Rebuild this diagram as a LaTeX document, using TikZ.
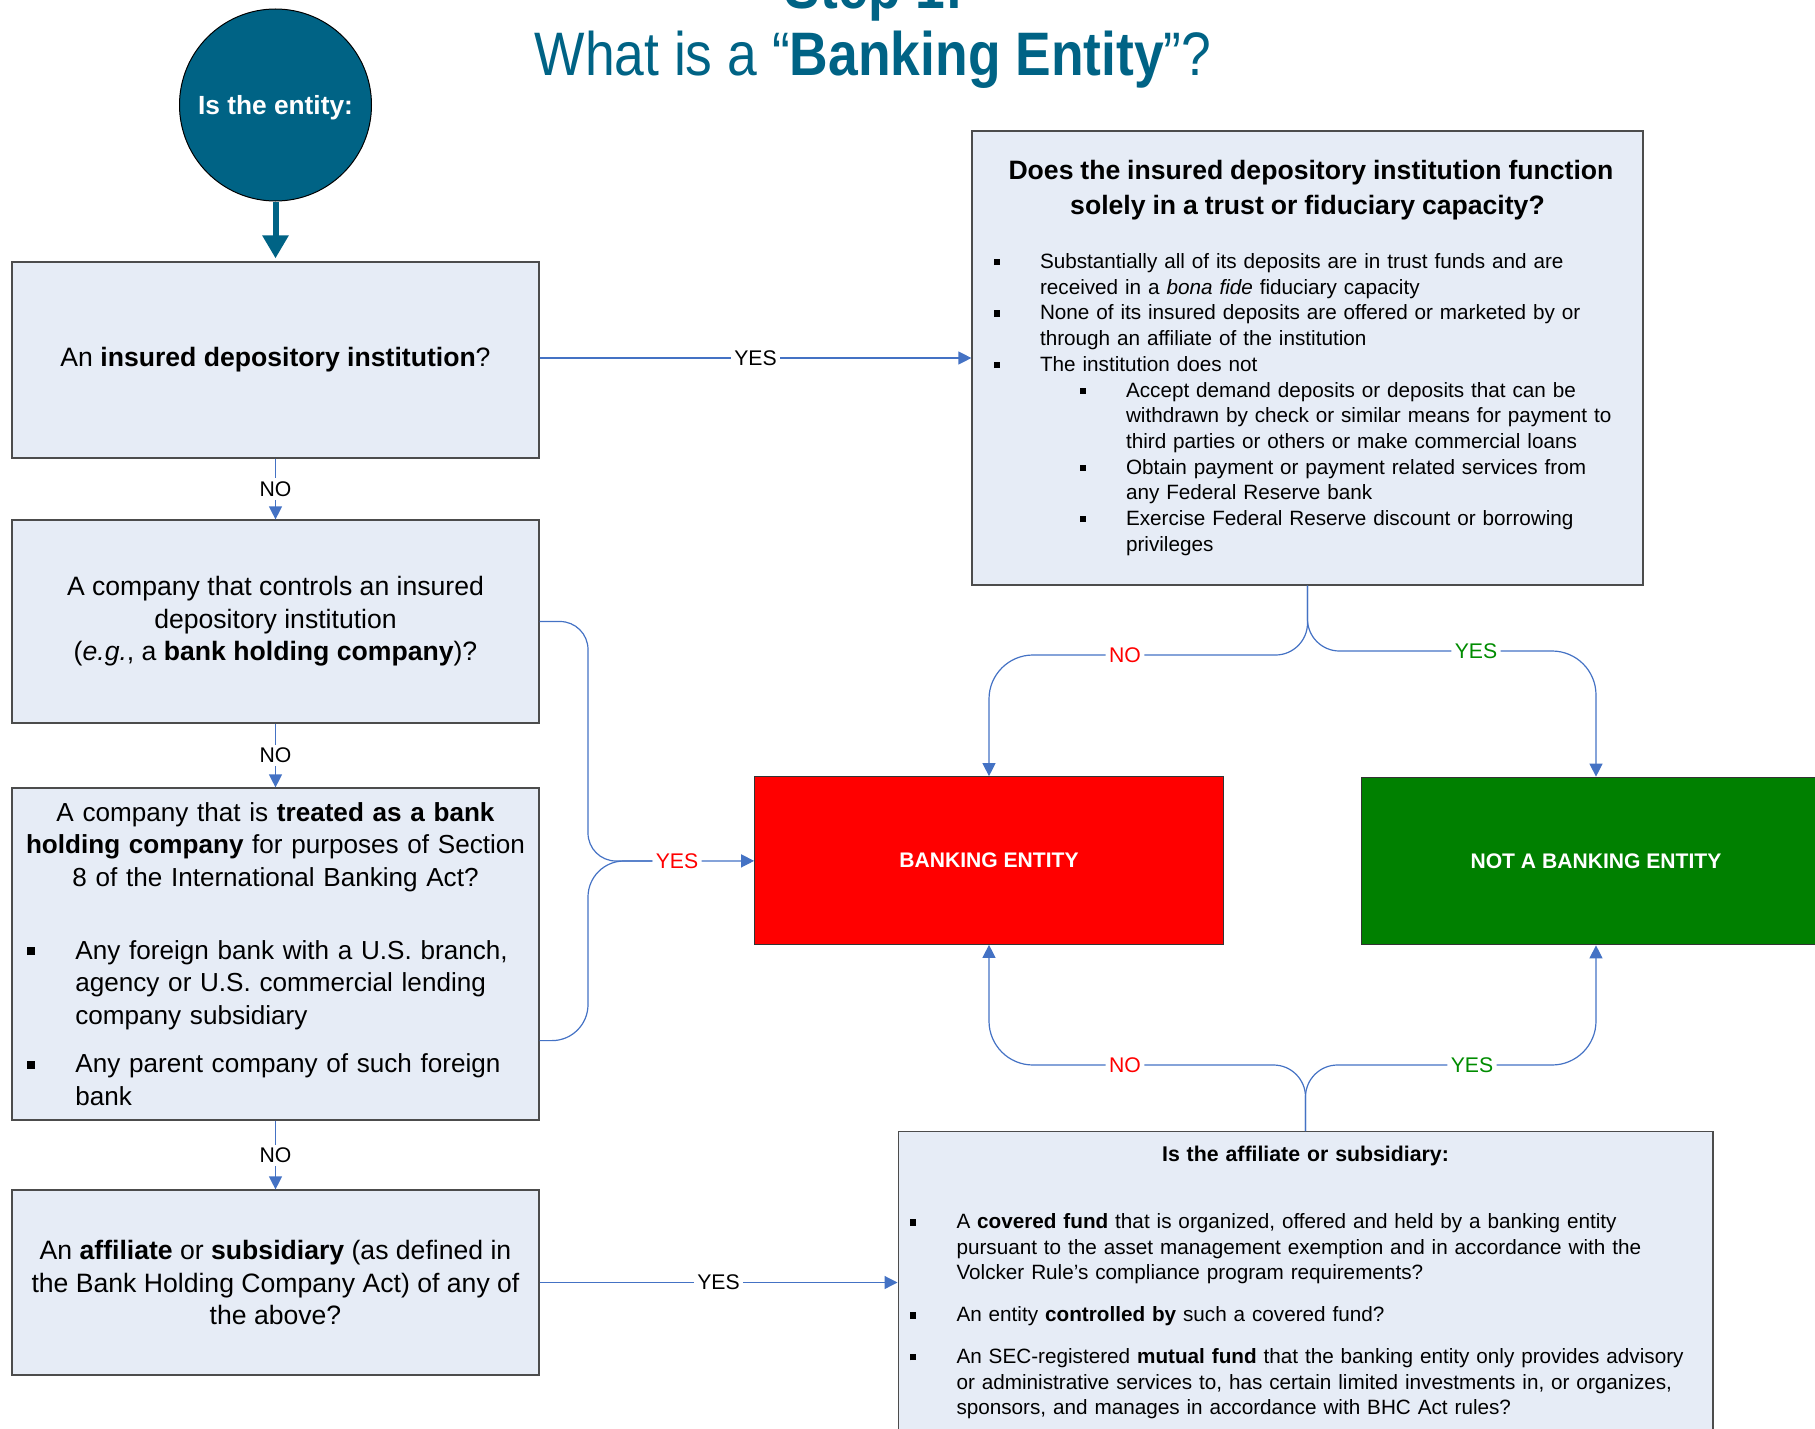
\documentclass[tikz,border=0pt]{standalone}
\usepackage{fontspec}
\setmainfont{Liberation Sans}
\newfontfamily\titlefont[FakeStretch=0.87]{Liberation Sans}
\usepackage{enumitem}
\usetikzlibrary{arrows.meta}

\definecolor{entityblue}{RGB}{0,99,133}
\definecolor{boxfill}{RGB}{230,236,246}
\definecolor{linkblue}{RGB}{68,114,196}
\definecolor{yesgreen}{RGB}{0,140,0}
\definecolor{bankgreen}{RGB}{0,128,0}
\newcommand{\bulsq}{\raisebox{0.16em}{\rule{0.3em}{0.3em}}}
\newcommand{\fsz}[2]{\fontsize{#1}{#2}\selectfont}
\setlength{\parindent}{0pt}

\begin{document}
\begin{tikzpicture}[x=0.5pt,y=-0.5pt,
    qbox/.style={draw=black!70,fill=boxfill,line width=0.6pt,minimum width=263.5pt,font=\fsz{13.3pt}{16.2pt}},
    endbox/.style={draw=black!80,line width=0.6pt,minimum width=234.25pt,minimum height=83.75pt,text=white,font=\bfseries\fsz{10.55pt}{12.6pt}},
    conn/.style={draw=linkblue,line width=0.6pt},
    arr/.style={-{Triangle[width=6.5pt,length=6.5pt]}},
    lbl/.style={fill=white,inner sep=1.5pt,font=\fsz{10.6pt}{12.6pt}}
  ]
  \useasboundingbox (0,0) rectangle (1815,1429);
  \clip (0,0) rectangle (1815,1429);

  % heading
  \node[anchor=base,text=entityblue,font=\titlefont\bfseries\fsz{30.7pt}{36pt}] (step) at (874,9) {Step 1:};
  \node[anchor=base,text=entityblue,font=\titlefont\fsz{30.7pt}{36pt}] (title) at (873,76) {What is a “\textbf{Banking Entity}”?};

  % start
  \node[circle,draw=black,line width=0.5pt,fill=entityblue,minimum size=96pt,inner sep=0pt,text depth=0pt,text=white,font=\bfseries\fsz{13.15pt}{15pt}] (start) at (275.5,105) {Is the entity:};

  % questions on the left
  \node[qbox,minimum height=98pt,align=center] (insured) at (275.5,360) {An \textbf{insured depository institution}?};
  \node[qbox,minimum height=101.5pt,align=center] (ctrl) at (275.5,621.5) {A company that controls an insured\\depository institution\\(\textit{e.g.}, a \textbf{bank holding company})?};
  \node[qbox,minimum height=166pt,text width=256pt,inner xsep=3.75pt,font=\fsz{13.05pt}{16.2pt}] (tbhc) at (275.5,954) {%
    {\centering A company that is \textbf{treated as a bank}\\\textbf{holding company} for purposes of Section\\8 of the International Banking Act?\par}
    \vspace{20.3pt}
    \begin{itemize}[label=\bulsq,leftmargin=27.95pt,labelsep=20.2pt,labelwidth=3.3pt,itemsep=8.1pt,topsep=0pt,parsep=0pt,partopsep=0pt]
      \item Any foreign bank with a U.S. branch,\\agency or U.S. commercial lending\\company subsidiary
      \item Any parent company of such foreign\\bank
    \end{itemize}};
  \node[qbox,minimum height=92.5pt,align=center] (affq) at (275.5,1282.5) {An \textbf{affiliate} or \textbf{subsidiary} (as defined in\\the Bank Holding Company Act) of any of\\the above?};

  % questions on the right
  \node[qbox,minimum width=335.5pt,minimum height=227pt,text width=317.5pt,font=\fsz{10.35pt}{12.85pt}] (trust) at (1307.5,358) {%
    \vspace*{1.75pt}
    {\centering\bfseries\fsz{13.3pt}{15.85pt}Does the insured depository institution function\\solely in a trust or fiduciary capacity?\par}
    \vspace{13.95pt}
    \begin{itemize}[label=\bulsq,leftmargin=25pt,labelsep=20pt,labelwidth=3.1pt,itemsep=0pt,topsep=0pt,parsep=0pt,partopsep=0pt]
      \item Substantially all of its deposits are in trust funds and are\\received in a \textit{bona fide} fiduciary capacity
      \item None of its insured deposits are offered or marketed by or\\through an affiliate of the institution
      \item The institution does not
      \begin{itemize}[label=\bulsq,leftmargin=43pt,labelsep=20pt,labelwidth=3.1pt,itemsep=0pt,topsep=0pt,parsep=0pt,partopsep=0pt]
        \item Accept demand deposits or deposits that can be\\withdrawn by check or similar means for payment to\\third parties or others or make commercial loans
        \item Obtain payment or payment related services from\\any Federal Reserve bank
        \item Exercise Federal Reserve discount or borrowing\\privileges
      \end{itemize}
    \end{itemize}};
  \node[qbox,minimum width=407.4pt,minimum height=150.8pt,text width=403pt,inner xsep=2.2pt,font=\fsz{10.35pt}{12.75pt}] (covered) at (1305.5,1282.5) {%
    {\centering\bfseries\fsz{10.65pt}{12.75pt}Is the affiliate or subsidiary:\par}
    \vspace{21pt}
    \begin{itemize}[label=\bulsq,leftmargin=27pt,labelsep=20.3pt,labelwidth=3.1pt,itemsep=8.2pt,topsep=0pt,parsep=0pt,partopsep=0pt]
      \item A \textbf{covered fund} that is organized, offered and held by a banking entity\\pursuant to the asset management exemption and in accordance with the\\Volcker Rule's compliance program requirements?
      \item An entity \textbf{controlled by} such a covered fund?
      \item An SEC-registered \textbf{mutual fund} that the banking entity only provides advisory\\or administrative services to, has certain limited investments in, or organizes,\\sponsors, and manages in accordance with BHC Act rules?
    \end{itemize}};

  % outcomes
  \node[endbox,fill=red] (bank) at (989,860.5) {BANKING ENTITY};
  \node[endbox,fill=bankgreen] (notbank) at (1596,861) {NOT A BANKING ENTITY};

  % connectors
  \draw[-{Triangle[width=12.5pt,length=11.5pt]},line width=3pt,entityblue,shorten >=1.5pt] (start) -- (insured);
  \draw[conn,arr] (insured) -- node[lbl] (no1) {NO} (ctrl);
  \draw[conn,arr] (ctrl) -- node[lbl] (no2) {NO} (tbhc);
  \draw[conn,arr] (tbhc) -- node[lbl] (no3) {NO} (affq);
  \draw[conn,arr] (insured.east |- trust.west) -- node[lbl] (yes1) {YES} (trust);
  \draw[conn,arr] (affq) -- node[lbl] (yes2) {YES} (covered);

  \node[lbl,text=red] (yesL) at (677,861) {YES};
  \coordinate (brace) at (588,861);
  \draw[conn,rounded corners=14pt] (ctrl.east) -| (brace) -- (yesL);
  \draw[conn,rounded corners=18pt] ([yshift=40pt]tbhc.south east) -| (brace) -- (yesL);
  \draw[conn,arr] (yesL) -- (bank);

  \node[lbl,text=red] (noT) at (1125,655) {NO};
  \node[lbl,text=yesgreen] (yesT) at (1476,651) {YES};
  \draw[conn,rounded corners=16pt] (trust.south) |- (noT);
  \draw[conn,arr,rounded corners=22pt] (noT) -| (bank);
  \draw[conn,rounded corners=16pt] (trust.south) |- (yesT);
  \draw[conn,arr,rounded corners=22pt] (yesT) -| (notbank);

  \node[lbl,text=red] (noB) at (1125,1065) {NO};
  \node[lbl,text=yesgreen] (yesB) at (1472,1065) {YES};
  \draw[conn,rounded corners=16pt] (covered.north) |- (noB);
  \draw[conn,arr,rounded corners=22pt] (noB) -| (bank);
  \draw[conn,rounded corners=16pt] (covered.north) |- (yesB);
  \draw[conn,arr,rounded corners=22pt] (yesB) -| (notbank);
\end{tikzpicture}
\end{document}
